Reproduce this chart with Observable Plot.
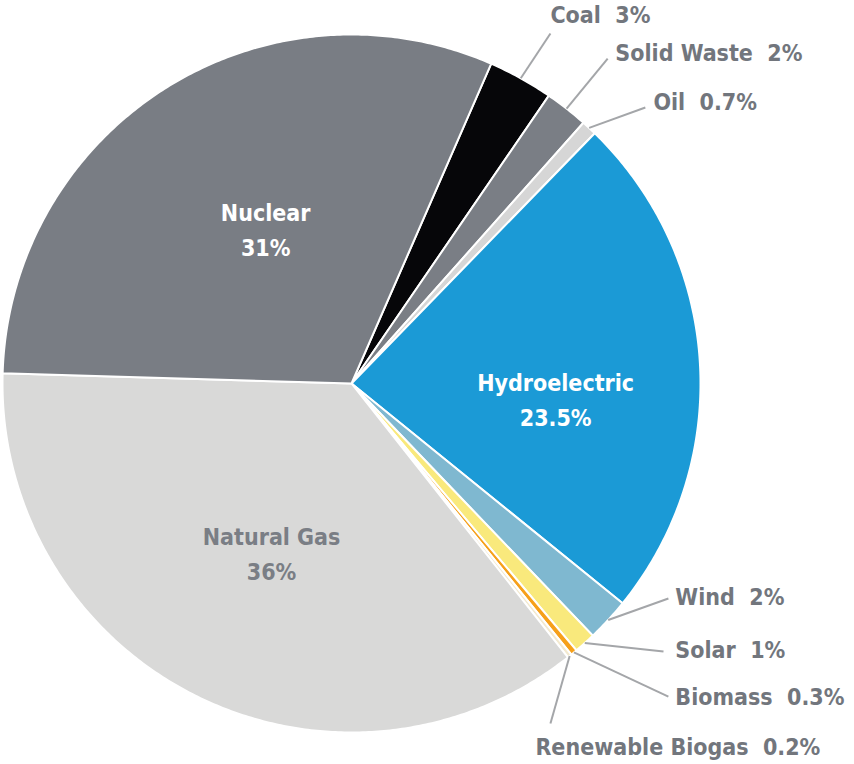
<!DOCTYPE html>
<html>
<head>
<meta charset="utf-8">
<script src="https://cdn.jsdelivr.net/npm/d3@7"></script>
<script src="https://cdn.jsdelivr.net/npm/@observablehq/plot@0.6"></script>
<style>
  html, body { margin: 0; padding: 0; background: #ffffff; }
  #chart svg { display: block; }
</style>
</head>
<body>
<div id="chart"></div>
<script>
// ---- Data (clockwise, starting at the Coal slice) ----
const categories = ["Coal", "Solid Waste", "Oil", "Hydroelectric", "Wind", "Solar", "Biomass", "Renewable Biogas", "Natural Gas", "Nuclear"];
const shares = [3, 2, 0.7, 23.5, 2, 1, 0.3, 0.2, 36, 31];
const shareLabels = ["3%", "2%", "0.7%", "23.5%", "2%", "1%", "0.3%", "0.2%", "36%", "31%"];
const sliceColors = ["#060609", "#7a7e85", "#d6d6d6", "#1b9ad6", "#7fb8d0", "#f9e97c", "#f6a01a", "#f3e9cf", "#d9d9d8", "#797d84"];
const insideNames = ["Hydroelectric", "Natural Gas", "Nuclear"];

// ---- Layout (unit-circle coordinates, y pointing down) ----
const startDeg = 23.6;
const insideLayout = [
  {name: "Nuclear", x: -0.246, y: -0.447, color: "#ffffff"},
  {name: "Natural Gas", x: -0.229, y: 0.481, color: "#7a7e85"},
  {name: "Hydroelectric", x: 0.585, y: 0.040, color: "#ffffff"}
];
const calloutLayout = [
  {name: "Coal", lx: 0.570, ly: -1.003, tx: 0.570, ty: -1.054},
  {name: "Solid Waste", lx: 0.734, ly: -0.931, tx: 0.756, ty: -0.946},
  {name: "Oil", lx: 0.842, ly: -0.791, tx: 0.865, ty: -0.805},
  {name: "Wind", lx: 0.908, ly: 0.616, tx: 0.928, ty: 0.613},
  {name: "Solar", lx: 0.894, ly: 0.768, tx: 0.928, ty: 0.765},
  {name: "Biomass", lx: 0.908, ly: 0.897, tx: 0.928, ty: 0.900},
  {name: "Renewable Biogas", lx: 0.570, ly: 0.974, tx: 0.527, ty: 1.043}
];

const rows = categories.map((name, i) => ({name, share: shares[i], label: shareLabels[i]}));
const a0 = startDeg * Math.PI / 180;
const arcs = d3.pie().sort(null).value(d => d.share).startAngle(a0).endAngle(a0 + 2 * Math.PI)(rows);
const byName = new Map(arcs.map(a => [a.data.name, a]));

// slice polygons
const slicePts = [];
for (const a of arcs) {
  const n = Math.max(2, Math.ceil((a.endAngle - a.startAngle) / (Math.PI / 360)));
  slicePts.push({name: a.data.name, x: 0, y: 0});
  for (let k = 0; k <= n; k++) {
    const t = a.startAngle + (a.endAngle - a.startAngle) * k / n;
    slicePts.push({name: a.data.name, x: Math.sin(t), y: -Math.cos(t)});
  }
  slicePts.push({name: a.data.name, x: 0, y: 0});
}

// leader lines and labels
const leaders = calloutLayout.map(c => {
  const a = byName.get(c.name);
  const m = (a.startAngle + a.endAngle) / 2;
  return {name: c.name, x1: Math.sin(m), y1: -Math.cos(m), x2: c.lx, y2: c.ly};
});
const outsideText = calloutLayout.map(c => ({
  x: c.tx, y: c.ty,
  text: c.name + "\u00a0\u00a0" + byName.get(c.name).data.label
}));
const insideText = insideLayout.map(c => ({
  x: c.x, y: c.y, color: c.color,
  text: c.name + "\n" + byName.get(c.name).data.label
}));

const font = "'DejaVu Sans Condensed', 'Liberation Sans Narrow', sans-serif";

const chart = Plot.plot({
  width: 854,
  height: 764,
  margin: 0,
  x: {domain: [-1, 1], range: [2, 700], axis: null},
  y: {domain: [-1, 1], range: [34, 732], axis: null},
  color: {domain: categories, range: sliceColors},
  marks: [
    Plot.line(slicePts, {x: "x", y: "y", z: "name", fill: "name", stroke: "#ffffff", strokeWidth: 2, strokeLinejoin: "round", curve: "linear"}),
    Plot.link(leaders, {x1: "x1", y1: "y1", x2: "x2", y2: "y2", stroke: "#a4a6a9", strokeWidth: 2}),
    Plot.text(outsideText, {x: "x", y: "y", text: "text", textAnchor: "start", lineAnchor: "middle", fill: "#72767d", fontSize: 23, fontWeight: "bold", fontFamily: font}),
    Plot.text(insideText, {x: "x", y: "y", text: "text", textAnchor: "middle", lineAnchor: "middle", lineHeight: 1.52, fill: d => d.color, fontSize: 23, fontWeight: "bold", fontFamily: font})
  ]
});
document.getElementById("chart").appendChild(chart);
</script>
</body>
</html>
